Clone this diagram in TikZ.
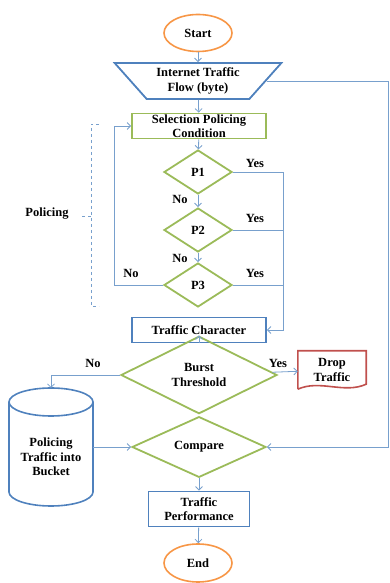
\documentclass[tikz,border=0pt]{standalone}
\usepackage{fontspec}
\setmainfont{Liberation Serif}
\usetikzlibrary{arrows.meta,shapes.geometric}

\definecolor{ofblue}{RGB}{79,129,189}
\definecolor{ofgreen}{RGB}{155,187,89}
\definecolor{oforange}{RGB}{247,150,70}
\definecolor{ofred}{RGB}{192,80,77}
\definecolor{linkblue}{RGB}{120,160,205}

\begin{document}
\begin{tikzpicture}[x=1pt,y=1pt,>={Straight Barb[length=3.5pt,width=7pt]},
  every node/.style={font=\bfseries\fontsize{12.5}{14.5}\selectfont,align=center},
  terminal/.style={ellipse,draw=oforange,line width=1.6pt,minimum width=68pt,minimum height=37pt,inner sep=0pt},
  process/.style={rectangle,draw,line width=1.8pt,inner sep=0pt},
  decision/.style={diamond,draw=ofgreen,line width=1.8pt,inner sep=0pt},
  link/.style={linkblue,line width=0.8pt},
  lbl/.style={inner sep=0pt}]
  \useasboundingbox (0,0) rectangle (390,583);

  \node[terminal] (start) at (198,550) {Start};
  \node[trapezium,trapezium angle=45,shape border rotate=180,trapezium stretches=true,
    draw=ofblue,line width=1.8pt,minimum width=167pt,minimum height=36pt,inner sep=0pt]
    (flow) at (198,502) {Internet Traffic\\Flow (byte)};
  \node[process,draw=ofgreen,minimum width=134pt,minimum height=25pt] (select) at (199,457)
    {Selection Policing\\Condition};
  \node[decision,minimum width=68pt,minimum height=44pt] (p1) at (198,411) {P1};
  \node[decision,minimum width=68pt,minimum height=44pt] (p2) at (198,353) {P2};
  \node[decision,minimum width=68pt,minimum height=44pt] (p3) at (198,298) {P3};
  \node[process,draw=ofblue,minimum width=134pt,minimum height=25pt] (char) at (199,253)
    {Traffic Character};
  \node[decision,minimum width=156pt,minimum height=44pt] (burst) at (199,208)
    {Burst\\Threshold};
  \node[minimum width=68pt,minimum height=38pt,inner sep=0pt] (drop) at (332,213) {Drop\\Traffic};
  \node (bucket) at (51,126) {Policing\\Traffic into\\Bucket};
  \node[decision,minimum width=134pt,minimum height=50pt] (compare) at (199,136) {Compare};
  \node[process,draw=ofblue,minimum width=101pt,minimum height=35pt] (perf) at (199,74)
    {Traffic\\Performance};
  \node[terminal,minimum height=38pt] (end) at (198,20) {End};
  \node (policing) at (47,369) {Policing};

  % drop traffic document
  \draw[ofred,line width=1.6pt] (drop.south west) -- (drop.north west) -- (drop.north east)
    -- ([yshift=5pt]drop.south east) .. controls +(-22pt,-10pt) and +(22pt,10pt) .. (drop.south west);

  % bucket cylinder
  \coordinate (buckettop) at (51,195);
  \coordinate (bucketright) at (93,136);
  \draw[ofblue,line width=1.6pt] (9,181) -- (9,91) arc[start angle=180,end angle=360,x radius=42,y radius=14]
    -- (93,181);
  \draw[ofblue,line width=1.6pt] (51,181) ellipse [x radius=42,y radius=14];

  % policing bracket
  \draw[linkblue,line width=0.7pt,dashed] (99,459) -- (91,459) -- (91,277) -- (99,277);
  \draw[linkblue,line width=0.7pt,dashed] (91,367) -- (82,367);

  % main flow
  \draw[link,->] (start) -- (flow);
  \draw[link,->] (flow) -- (select);
  \draw[link,->] (select) -- (p1);
  \draw[link,->] (p1) -- (p2);
  \draw[link,->] (p2) -- (p3);
  \draw[link,->] (char) -- (burst);
  \draw[link,->] (burst) -- (drop);
  \draw[link,->] (burst.west) -| (buckettop);
  \draw[link,->] (bucketright) -- (compare.west);
  \draw[link,->] (compare) -- (perf);
  \draw[link,->] (perf) -- (end);

  % yes branch
  \coordinate (yesx) at (283,0);
  \draw[link,->] (p1.east) -- (p1.east -| yesx) |- (char.east);
  \draw[link] (p2.east) -- (p2.east -| yesx);
  \draw[link] (p3.east) -- (p3.east -| yesx);
  % no loop
  \draw[link,->] (p3.west) -- (114,298) |- (select.west);
  % byte loop
  \coordinate (loopx) at (388,0);
  \draw[link,->] (flow.east) -- (flow.east -| loopx) |- (compare.east);

  \node[lbl] (yes1) at (255,420) {Yes};
  \node[lbl] (yes2) at (255,365) {Yes};
  \node[lbl] (yes3) at (255,310) {Yes};
  \node[lbl] (no1) at (180,384) {No};
  \node[lbl] (no2) at (180,325) {No};
  \node[lbl] (no3) at (131,310) {No};
  \node[lbl] (yes4) at (278,220) {Yes};
  \node[lbl] (no4) at (93,220) {No};
\end{tikzpicture}
\end{document}
